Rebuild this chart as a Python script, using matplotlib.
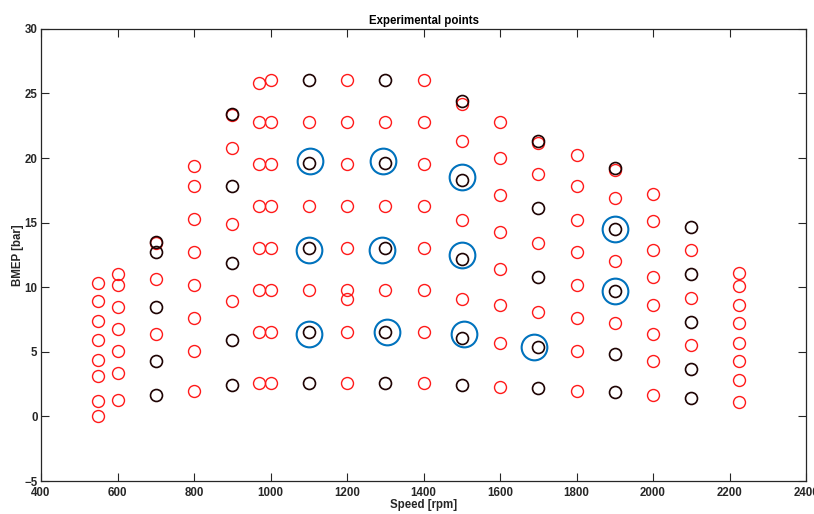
import matplotlib
matplotlib.use('Agg')
import matplotlib.pyplot as plt

# experimental operating points (speed [rpm], BMEP [bar])
red_speed = ([550] * 8 + [600] * 7 + [700] * 3 + [800] * 8 + [900] * 4
             + [970] * 8 + [1000] * 8 + [1100] * 3 + [1200] * 9 + [1300] * 3
             + [1400] * 8 + [1500] * 4 + [1600] * 8 + [1700] * 4 + [1800] * 8
             + [1900] * 4 + [2000] * 8 + [2100] * 3 + [2225] * 8)
red_bmep = [10.3, 8.9, 7.4, 5.9, 4.4, 3.1, 1.2, 0.0,
            11.0, 10.2, 8.5, 6.8, 5.1, 3.4, 1.3,
            13.4, 10.6, 6.4,
            19.4, 17.8, 15.3, 12.7, 10.2, 7.6, 5.1, 2.0,
            23.3, 20.8, 14.9, 8.9,
            25.8, 22.8, 19.5, 16.3, 13.0, 9.8, 6.5, 2.6,
            26.0, 22.8, 19.5, 16.3, 13.0, 9.8, 6.5, 2.6,
            22.8, 16.3, 9.8,
            26.0, 22.8, 19.5, 16.3, 13.0, 9.8, 9.1, 6.5, 2.6,
            22.8, 16.3, 9.8,
            26.0, 22.8, 19.5, 16.3, 13.0, 9.8, 6.5, 2.6,
            24.2, 21.3, 15.2, 9.1,
            22.8, 20.0, 17.1, 14.3, 11.4, 8.6, 5.7, 2.3,
            21.2, 18.8, 13.4, 8.1,
            20.2, 17.8, 15.2, 12.7, 10.2, 7.6, 5.1, 2.0,
            19.1, 16.9, 12.0, 7.2,
            17.2, 15.1, 12.9, 10.8, 8.6, 6.4, 4.3, 1.7,
            12.9, 9.2, 5.5,
            11.1, 10.1, 8.6, 7.2, 5.7, 4.3, 2.8, 1.1]

black_speed = ([700] * 5 + [900] * 5 + [1100] * 5 + [1300] * 5
               + [1500] * 5 + [1700] * 5 + [1900] * 5 + [2100] * 5)
black_bmep = [13.5, 12.7, 8.5, 4.3, 1.7,
              23.4, 17.8, 11.9, 5.9, 2.4,
              26.0, 19.6, 13.0, 6.5, 2.6,
              26.0, 19.6, 13.0, 6.5, 2.6,
              24.4, 18.3, 12.2, 6.1, 2.4,
              21.3, 16.1, 10.8, 5.4, 2.2,
              19.2, 14.5, 9.7, 4.8, 1.9,
              14.7, 11.0, 7.3, 3.7, 1.4]

blue_speed = [1103, 1293, 1500, 1901, 1900, 1101, 1291, 1500, 1101, 1305, 1506, 1690]
blue_bmep = [19.8, 19.8, 18.5, 14.5, 9.7, 12.9, 12.9, 12.5, 6.4, 6.5, 6.4, 5.4]

plt.rcParams['font.family'] = ['Liberation Sans', 'DejaVu Sans']
plt.rcParams['font.weight'] = 'bold'

fig = plt.figure(figsize=(8.14, 5.14), dpi=100)
ax = fig.add_axes([0.0504, 0.064, 0.9398, 0.880])

ax.plot(red_speed, red_bmep, 'o', mfc='none', mec='#ff1a1a', ms=8.6, mew=1.0, ls='none')
ax.plot(black_speed, black_bmep, 'o', mfc='none', mec='#1e0303', ms=8.6, mew=1.2, ls='none')
ax.plot(blue_speed, blue_bmep, 'o', mfc='none', mec='#0072BD', ms=18.5, mew=1.5, ls='none')

ax.set_xlim(400, 2400)
ax.set_ylim(-5, 30)
ax.set_xticks(range(400, 2401, 200))
ax.set_yticks(range(-5, 31, 5))
ax.tick_params(direction='in', top=True, right=True, length=5.5, width=0.8,
               labelsize=8.3, colors='#262626')
ax.tick_params(axis='x', pad=4)
ax.tick_params(axis='y', pad=2.5)
for lab in ax.get_xticklabels() + ax.get_yticklabels():
    lab.set_fontweight('bold')
for s in ax.spines.values():
    s.set_linewidth(0.9)
    s.set_color('#262626')

ax.set_title('Experimental points', fontsize=8.3, fontweight='bold', pad=3.5)
ax.set_xlabel('Speed [rpm]', fontsize=8.3, fontweight='bold', labelpad=0.5, color='#262626')
ax.set_ylabel('BMEP [bar]', fontsize=8.3, fontweight='bold', labelpad=0, color='#262626')

fig.savefig('out.png', dpi=100)
